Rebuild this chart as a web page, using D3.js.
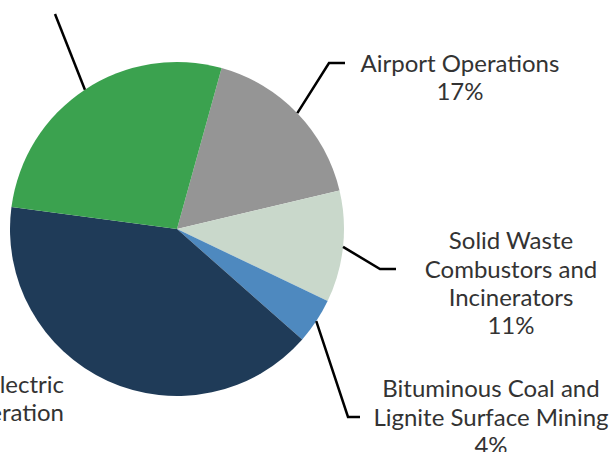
<!DOCTYPE html>
<html>
<head>
<meta charset="utf-8">
<script src="https://cdn.jsdelivr.net/npm/d3@7"></script>
<style>
  html, body { margin: 0; padding: 0; background: #fff; }
  svg { display: block; }
  text { font-family: Lato, "Open Sans", sans-serif; fill: #333; }
</style>
</head>
<body>
<svg id="chart" width="615" height="452"></svg>
<script>
// ---- data ----
const categories = [
  "Airport Operations",
  "Solid Waste Combustors and Incinerators",
  "Bituminous Coal and Lignite Surface Mining",
  "Electric Generation",
  "Other"
];
const shares = [17.0, 10.8, 4.4, 40.6, 27.2];
const labelLines = [
  ["Airport Operations"],
  ["Solid Waste", "Combustors and", "Incinerators"],
  ["Bituminous Coal and", "Lignite Surface Mining"],
  ["Electric", "Generation"],
  []
];
const showPercent = [true, true, true, false, false];
const colors = ["#959595", "#c9d8cb", "#4e89bf", "#1f3b58", "#3ba24f"];

// ---- layout ----
const svg = d3.select("#chart");
const cx = 177, cy = 229, R = 167;
const fontSize = 24, lineH = 28.4;

// leader elbows and label anchors (layout only)
const layout = [
  { elbow: [329, 63], end: [345, 63], tx: 460, ty: 63, anchor: "middle" },
  { elbow: [380, 269], end: [396, 269], tx: 511, ty: 269, anchor: "middle" },
  { elbow: [348, 417], end: [360, 417], tx: 491, ty: 417, anchor: "middle" },
  { elbow: null, end: null, tx: 64, ty: 384, anchor: "end", noLeader: true, first: 0 },
  { elbow: [55, 14], end: null, tx: null, ty: null, anchor: "middle" }
];

const pie = d3.pie().sort(null).value(d => d)
  .startAngle(15.5 * Math.PI / 180)
  .endAngle(15.5 * Math.PI / 180 + 2 * Math.PI);
const arcs = pie(shares);
const arc = d3.arc().innerRadius(0).outerRadius(R);
const edgeArc = d3.arc().innerRadius(R).outerRadius(R);

const g = svg.append("g").attr("transform", `translate(${cx},${cy})`);
g.selectAll("path.slice").data(arcs).join("path")
  .attr("class", "slice")
  .attr("d", arc)
  .attr("fill", (d, i) => colors[i]);

// leaders
const fmt = d3.format(".0f");
arcs.forEach((d, i) => {
  const L = layout[i];
  if (L.noLeader) return;
  const p0 = edgeArc.centroid(d);
  const pts = [[p0[0] + cx, p0[1] + cy], L.elbow];
  if (L.end) pts.push(L.end);
  svg.append("path")
    .attr("d", d3.line()(pts))
    .attr("fill", "none")
    .attr("stroke", "#000")
    .attr("stroke-width", 2.5)
    .attr("stroke-linejoin", "miter");
});

// labels
arcs.forEach((d, i) => {
  const L = layout[i];
  if (L.tx == null) return;
  const lines = labelLines[i].slice();
  if (showPercent[i]) lines.push(fmt(shares[i]) + "%");
  if (!lines.length) return;
  const idx = L.first != null ? L.first : Math.floor((lines.length - 1) / 2);
  const t = svg.append("text")
    .attr("text-anchor", L.anchor)
    .attr("font-size", fontSize);
  lines.forEach((ln, k) => {
    t.append("tspan")
      .attr("x", L.tx)
      .attr("y", L.ty + (k - idx) * lineH + fontSize * 0.36)
      .text(ln);
  });
});
</script>
</body>
</html>
